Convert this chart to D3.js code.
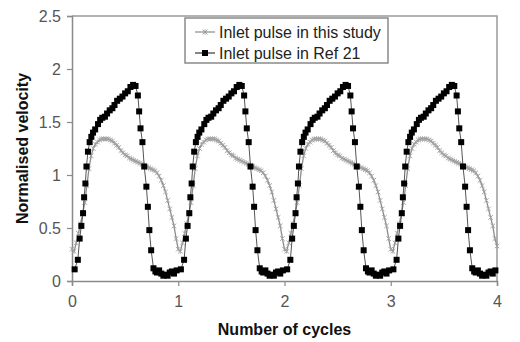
<!DOCTYPE html>
<html><head><meta charset="utf-8">
<script src="https://cdn.jsdelivr.net/npm/d3@7"></script>
<style>
html,body{margin:0;padding:0;background:#fff;}
svg{display:block;font-family:"Liberation Sans",Arial,sans-serif;}
</style></head>
<body>
<svg id="c" width="520" height="342"></svg>
<script>
// ---- data ----
const cycles = [0, 1, 2, 3];
const xTicks = [0, 1, 2, 3, 4];
const yTicks = [0, 0.5, 1, 1.5, 2, 2.5];
const seriesNames = ["Inlet pulse in this study", "Inlet pulse in Ref 21"];

// "this study": one cycle, phase within cycle (t) and normalised velocity (v)
const studyT = [0,0.02,0.04,0.06,0.08,0.10,0.12,0.14,0.16,0.18,0.20,0.22,0.24,0.26,0.28,0.30,0.32,0.34,0.36,0.38,0.40,0.42,0.44,0.46,0.48,0.50,0.52,0.54,0.56,0.58,0.60,0.62,0.64,0.66,0.68,0.70,0.72,0.74,0.76,0.78,0.80,0.82,0.84,0.86,0.88,0.90,0.92,0.94,0.96,0.98];
const studyV = [0.30,0.28,0.36,0.45,0.54,0.63,0.74,0.90,1.06,1.18,1.25,1.29,1.31,1.33,1.34,1.34,1.34,1.34,1.33,1.32,1.30,1.28,1.26,1.23,1.21,1.19,1.18,1.16,1.15,1.14,1.13,1.12,1.11,1.10,1.09,1.08,1.07,1.06,1.05,1.04,1.02,0.99,0.95,0.90,0.84,0.76,0.68,0.60,0.52,0.40];
const studyEnd = [4.0, 0.33];

// "Ref 21": one cycle
const refT = [0.025,0.055,0.072,0.088,0.104,0.114,0.126,0.136,0.15,0.166,0.182,0.198,0.218,0.245,0.265,0.285,0.31,0.33,0.355,0.38,0.40,0.425,0.45,0.475,0.50,0.525,0.55,0.575,0.598,0.62,0.632,0.645,0.663,0.68,0.70,0.714,0.728,0.745,0.767,0.785,0.80,0.82,0.84,0.86,0.88,0.90,0.92,0.94,0.96,0.985];
const refV = [0.11,0.20,0.40,0.52,0.64,0.79,0.92,1.08,1.22,1.31,1.36,1.40,1.43,1.48,1.52,1.54,1.55,1.58,1.61,1.63,1.66,1.70,1.72,1.74,1.77,1.79,1.83,1.85,1.84,1.75,1.60,1.44,1.31,1.08,0.89,0.70,0.48,0.29,0.12,0.09,0.08,0.10,0.07,0.05,0.06,0.05,0.08,0.09,0.07,0.10];

// ---- layout ----
const svg = d3.select("#c");
const x = d3.scaleLinear().domain([0, 4]).range([72, 497]);
const y = d3.scaleLinear().domain([0, 2.5]).range([281, 16]);
const axisCol = "#8a8a8a";

// plot frame (top/right)
svg.append("path")
  .attr("d", `M${x(0)},${y(2.5)}H${x(4)}V${y(0)}`)
  .attr("fill", "none").attr("stroke", "#9a9a9a").attr("stroke-width", 1.5);

// axes
const gx = svg.append("g").attr("transform", `translate(0,${y(0)})`)
  .call(d3.axisBottom(x).tickValues(xTicks).tickFormat(d3.format("d")).tickSize(5).tickPadding(10));
const gy = svg.append("g").attr("transform", `translate(${x(0)},0)`)
  .call(d3.axisLeft(y).tickValues(yTicks).tickFormat(d => String(d)).tickSize(5).tickPadding(6));
[gx, gy].forEach(g => {
  g.select(".domain").attr("stroke", axisCol).attr("stroke-width", 1.5);
  g.selectAll(".tick line").attr("stroke", axisCol).attr("stroke-width", 1.2);
  g.selectAll(".tick text").attr("font-size", 16).attr("fill", "#555")
    .attr("font-family", '"Liberation Sans",Arial,sans-serif');
});

// build series
const study = [];
cycles.forEach(c => studyT.forEach((t, i) => study.push([c + t, studyV[i]])));
study.push(studyEnd);
const ref = [];
cycles.forEach(c => refT.forEach((t, i) => ref.push([c + t, refV[i]])));

const line = d3.line().x(d => x(d[0])).y(d => y(d[1]));

// study series: grey line with small x markers
svg.append("path").datum(study).attr("d", line)
  .attr("fill", "none").attr("stroke", "#8c8c8c").attr("stroke-width", 1.3);
const xm = (cx, cy, s) => `M${cx - s},${cy - s}L${cx + s},${cy + s}M${cx - s},${cy + s}L${cx + s},${cy - s}M${cx},${cy - s}V${cy + s}`;
svg.append("g").selectAll("path").data(study).join("path")
  .attr("d", d => xm(x(d[0]), y(d[1]), 2.3))
  .attr("stroke", "#a0a0a0").attr("stroke-width", 0.9).attr("fill", "none");

// ref series: thin line with black squares
svg.append("path").datum(ref).attr("d", line)
  .attr("fill", "none").attr("stroke", "#555").attr("stroke-width", 1);
svg.append("g").selectAll("rect").data(ref).join("rect")
  .attr("x", d => x(d[0]) - 3).attr("y", d => y(d[1]) - 3)
  .attr("width", 6).attr("height", 6).attr("fill", "#000");

// legend
const lg = svg.append("g");
lg.append("rect").attr("x", 185).attr("y", 18).attr("width", 203).attr("height", 45)
  .attr("fill", "#fff").attr("stroke", "#8a8a8a").attr("stroke-width", 1.5);
const ly = [32, 53];
lg.append("line").attr("x1", 195).attr("x2", 215).attr("y1", ly[0]).attr("y2", ly[0])
  .attr("stroke", "#8c8c8c").attr("stroke-width", 1.2);
lg.append("path").attr("d", xm(205, ly[0], 2.5)).attr("stroke", "#999").attr("stroke-width", 0.9);
lg.append("line").attr("x1", 195).attr("x2", 215).attr("y1", ly[1]).attr("y2", ly[1])
  .attr("stroke", "#333").attr("stroke-width", 1.2);
lg.append("rect").attr("x", 202).attr("y", ly[1] - 3).attr("width", 6).attr("height", 6).attr("fill", "#000");
lg.selectAll("text").data(seriesNames).join("text")
  .attr("x", 219).attr("y", (d, i) => ly[i] + 6)
  .attr("font-size", 16).attr("fill", "#222").text(d => d);

// axis titles
svg.append("text").attr("x", (x(0) + x(4)) / 2).attr("y", 335)
  .attr("text-anchor", "middle").attr("font-size", 16).attr("font-weight", "bold")
  .attr("fill", "#111").text("Number of cycles");
svg.append("text").attr("transform", `translate(28,${(y(0) + y(2.5)) / 2}) rotate(-90)`)
  .attr("text-anchor", "middle").attr("font-size", 16).attr("font-weight", "bold")
  .attr("fill", "#111").text("Normalised velocity");
</script>
</body></html>
